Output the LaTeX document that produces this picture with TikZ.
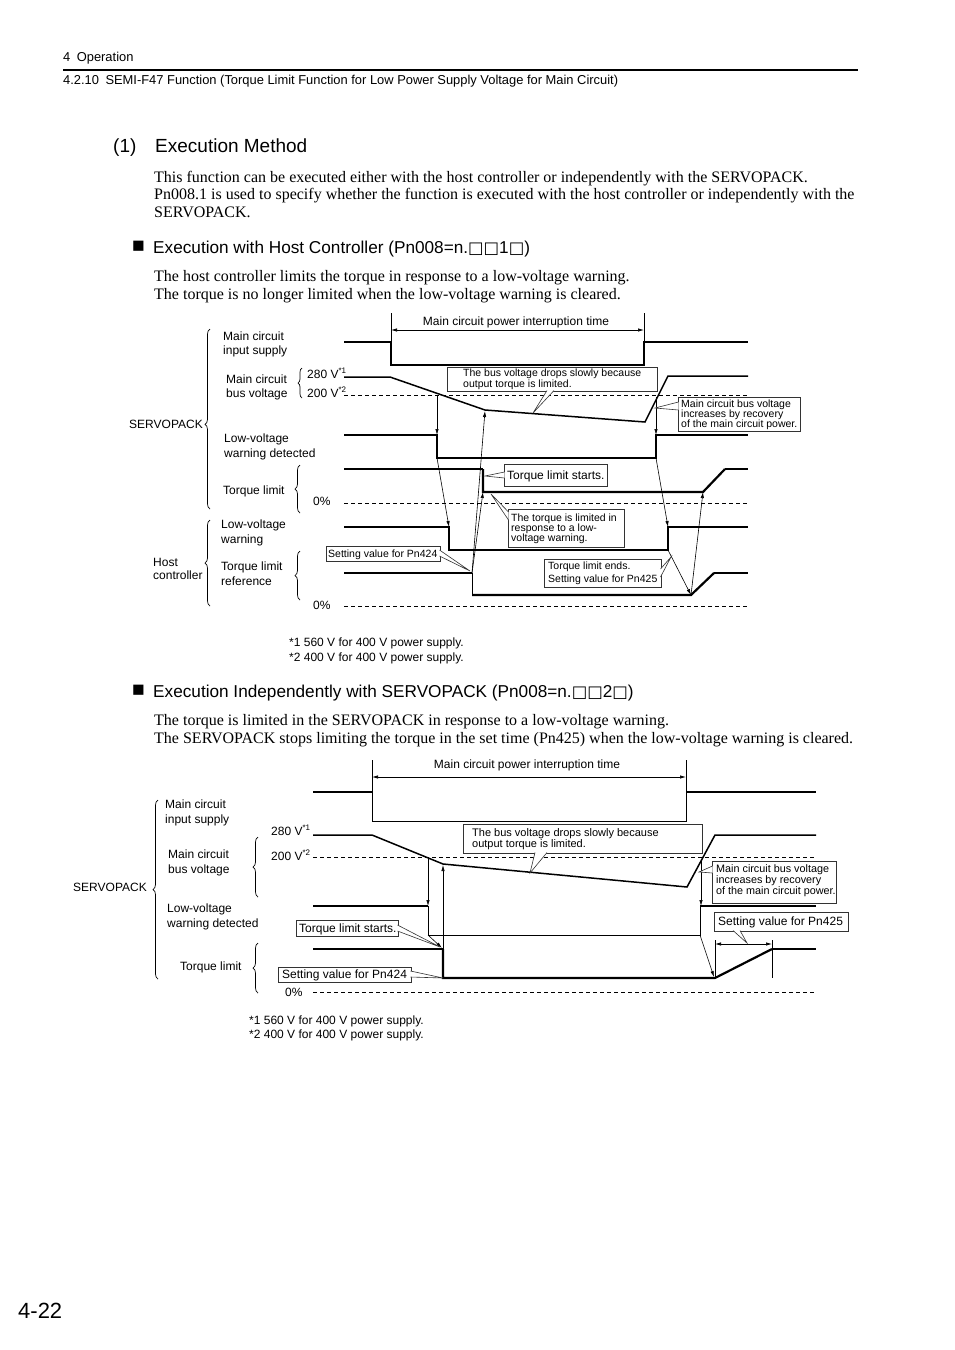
\documentclass[tikz,border=0pt]{standalone}
\usepackage{fontspec}
\setmainfont{Liberation Sans}
\newfontfamily\serifface{Liberation Serif}
\newfontfamily\symf{DejaVu Sans}
\usetikzlibrary{arrows.meta,decorations.pathreplacing}
\newcommand\callwedge[3]{\fill[white] #1 -- #2 -- #3 -- cycle; \draw[wdg] #1 -- #2 -- #3;}
\newcommand\bx{{\symf\fontsize{16.4}{19}\selectfont □}}
\tikzset{
 sig/.style={line width=2.2pt, line join=miter},
 med/.style={line width=1.5pt, line join=miter},
 thn/.style={line width=0.8pt},
 dsh/.style={line width=0.8pt, dash pattern=on 4pt off 3pt},
 arr/.style={line width=0.6pt, -{Latex[length=6pt,width=3.4pt]}},
 dimarr/.style={line width=0.7pt, {Latex[length=6pt,width=3.4pt]}-{Latex[length=6pt,width=3.4pt]}},
 brc/.style={decorate, decoration={brace, amplitude=5pt}, line width=0.7pt},
 cbox/.style={draw=black!80, line width=0.8pt, inner sep=0, outer sep=0},
 wdg/.style={line width=0.6pt, black!80},
 t12/.style={inner sep=0, anchor=west, text height=8.6pt, text depth=0pt, font=\fontsize{12}{14}\selectfont},
 t11/.style={inner sep=0, anchor=west, text height=7.9pt, text depth=0pt, font=\fontsize{11}{13}\selectfont},
 thd/.style={inner sep=0, anchor=west, text height=9.2pt, text depth=0pt, font=\fontsize{12.9}{15}\selectfont},
 ct/.style={inner sep=0, anchor=west, align=left},
 body/.style={inner sep=0, anchor=west, text height=10.6pt, text depth=0pt, font=\serifface\fontsize{16}{18}\selectfont},
 h19/.style={inner sep=0, anchor=west, text height=13.6pt, text depth=0pt, font=\fontsize{19}{22}\selectfont},
 h16/.style={inner sep=0, anchor=west, text height=12.3pt, text depth=0pt, font=\fontsize{17.2}{20}\selectfont},
 sq/.style={inner sep=0, anchor=base west, font=\fontsize{21}{22}\selectfont},
}
\begin{document}
\begin{tikzpicture}[x=1pt,y=-1pt]
\useasboundingbox (0,0) rectangle (954,1350);
\fill[white] (0,0) rectangle (954,1350);

% ---------- page header ----------
\node[thd] (hdA) at (63,57) {4\enspace Operation};
\draw[line width=1.5pt] (63,70) -- (858,70);
\node[thd] (hdB) at (63,80) {4.2.10\enspace SEMI-F47 Function (Torque Limit Function for Low Power Supply Voltage for Main Circuit)};

\node[h19] (secnum) at (113,146) {(1)};
\node[h19] (sectit) at (155,146) {Execution Method};
\node[body] (p1) at (154,177) {This function can be executed either with the host controller or independently with the SERVOPACK.};
\node[body] (p2) at (154,194) {Pn008.1 is used to specify whether the function is executed with the host controller or independently with the};
\node[body] (p3) at (154,212) {SERVOPACK.};

\node[sq] (sqA) at (132,252.8) {■};
\node[h16] (bulA) at (153,247) {Execution with Host Controller (Pn008=n.\bx\bx1\bx)};
\node[body] (p4) at (154,276) {The host controller limits the torque in response to a low-voltage warning.};
\node[body] (p5) at (154,294) {The torque is no longer limited when the low-voltage warning is cleared.};

% ---------- top diagram ----------
\draw[thn] (391,313) -- (391,365);
\draw[thn] (644,313) -- (644,365);
\draw[dimarr] (391,330) -- (644,330);
\node[t12,anchor=center] (tInt) at (516,321) {Main circuit power interruption time};

% signals
\draw[sig] (344,342) -- (391,342) -- (391,365) -- (644,365) -- (644,342) -- (748,342);
\draw[med] (344,377) -- (390,377) -- (485,410) -- (645,422) -- (668,376) -- (748,376);
\draw[dsh] (344,395) -- (748,395);
\draw[sig] (344,435) -- (437,435) -- (437,458) -- (656,458) -- (656,435) -- (748,435);
\draw[med] (344,469) -- (483,469);
\draw[sig] (483,469) -- (483,492) -- (703,492) -- (725,469);
\draw[med] (725,469) -- (748,469);
\draw[dsh] (344,503) -- (748,503);
\draw[sig] (344,527) -- (449,527) -- (449,550) -- (668,550) -- (668,527) -- (748,527);
\draw[med] (344,573) -- (472,573);
\draw[thn] (472,573) -- (472,595);
\draw[sig] (472,595) -- (691,595) -- (714,573);
\draw[med] (714,573) -- (748,573);
\draw[dsh] (344,606) -- (748,606);

% arrows
\coordinate (tA) at (437,395);
\coordinate (tB) at (437,435);
\coordinate (tC) at (437,458);
\coordinate (tD) at (449,527);
\coordinate (tE) at (472,573);
\coordinate (tF) at (483,492);
\coordinate (tG) at (485,411);
\coordinate (tH) at (656,397);
\coordinate (tI) at (656,435);
\coordinate (tJ) at (656,458);
\coordinate (tK) at (668,527);
\coordinate (tL) at (668,550);
\coordinate (tM) at (691,595);
\coordinate (tN) at (703,492);
\draw[arr] (tA) -- (tB);
\draw[arr] (tC) -- (tD);
\draw[arr] (tE) -- (tF);
\draw[arr] (tE) -- (tG);
\draw[arr] (tH) -- (tI);
\draw[arr] (tJ) -- (tK);
\draw[arr] (tL) -- (tM);
\draw[arr] (tM) -- (tN);

% callouts
\node[cbox, minimum width=210, minimum height=24] (c1) at (552,379) {};
\callwedge{(547,390.5)}{(533,413)}{(554,390.5)}
\node[ct, font=\fontsize{10.5}{11}\selectfont] (c1t) at (463,379.5) {The bus voltage drops slowly because\\output torque is limited.};

\node[cbox, minimum width=122, minimum height=34] (c2) at (739,414) {};
\callwedge{(678.5,402)}{(655,408)}{(678.5,410)}
\node[ct, font=\fontsize{10.5}{10}\selectfont] (c2t) at (681,414.5) {Main circuit bus voltage\\increases by recovery\\of the main circuit power.};

\node[cbox, minimum width=103, minimum height=22] (c3) at (555.5,475) {};
\callwedge{(504.5,472)}{(485,476)}{(504.5,478)}
\node[t12] (c3t) at (507,475) {Torque limit starts.};

\node[cbox, minimum width=116, minimum height=38] (c4) at (566,528) {};
\callwedge{(508.5,512)}{(491,494)}{(508.5,520)}
\node[ct, font=\fontsize{10.5}{10}\selectfont] (c4t) at (511,528.5) {The torque is limited in\\response to a low-\\voltage warning.};

\node[cbox, minimum width=114, minimum height=15] (c5) at (383,553.5) {};
\callwedge{(439.5,550)}{(470,571)}{(439.5,556)}
\node[t11, font=\fontsize{10.5}{12}\selectfont, text height=7.5pt] (c5t) at (328,553.5) {Setting value for Pn424};

\node[cbox, minimum width=117, minimum height=28] (c6) at (602.5,573) {};
\callwedge{(660.5,569)}{(671,557)}{(660.5,577)}
\node[ct, font=\fontsize{10.5}{13}\selectfont] (c6t) at (548,573.5) {Torque limit ends.\\Setting value for Pn425};

% labels
\node[t12] (l1) at (223,336) {Main circuit};
\node[t12] (l2) at (223,350) {input supply};
\node[t12] (l3) at (226,379) {Main circuit};
\node[t12] (l4) at (226,393) {bus voltage};
\node[t12] (v1) at (307,374) {280 V\textsuperscript{*1}};
\node[t12] (v2) at (307,393) {200 V\textsuperscript{*2}};
\node[t12,anchor=east] (sv1) at (203,424) {SERVOPACK};
\node[t12] (l5) at (224,438) {Low-voltage};
\node[t12] (l6) at (224,453) {warning detected};
\node[t12] (l7) at (223,490) {Torque limit};
\node[t12] (z1) at (313,501) {0\%};
\node[t12] (l8) at (221,524) {Low-voltage};
\node[t12] (l9) at (221,539) {warning};
\node[t12] (hc1) at (153,562) {Host};
\node[t12] (hc2) at (153,575) {controller};
\node[t12] (l10) at (221,566) {Torque limit};
\node[t12] (l11) at (221,581) {reference};
\node[t12] (z2) at (313,605) {0\%};

% braces
\draw[brc, decoration={aspect=0.47}] (210,509) -- (210,329);
\draw[brc] (210,606) -- (210,520);
\draw[brc, decoration={amplitude=4pt}] (302,398) -- (302,368);
\draw[brc] (300,513) -- (300,465);
\draw[brc] (300,600) -- (300,551);

\node[t12] (fn1) at (289,642) {*1 560 V for 400 V power supply.};
\node[t12] (fn2) at (289,657) {*2 400 V for 400 V power supply.};

% ---------- second section ----------
\node[sq] (sqB) at (132,696.8) {■};
\node[h16] (bulB) at (153,691) {Execution Independently with SERVOPACK (Pn008=n.\bx\bx2\bx)};
\node[body] (p6) at (154,720) {The torque is limited in the SERVOPACK in response to a low-voltage warning.};
\node[body] (p7) at (154,738) {The SERVOPACK stops limiting the torque in the set time (Pn425) when the low-voltage warning is cleared.};

% ---------- bottom diagram ----------
\draw[thn] (372,760) -- (372,821);
\draw[thn] (686,760) -- (686,821);
\draw[dimarr] (372,777) -- (686,777);
\node[t12,anchor=center] (bInt) at (527,764) {Main circuit power interruption time};

\draw[sig] (313,792) -- (372,792);
\draw[thn] (372,792) -- (372,821) -- (686,821) -- (686,792);
\draw[sig] (686,792) -- (816,792);
\draw[med] (313,835) -- (372,835) -- (443,864) -- (687,887) -- (715,835) -- (816,835);
\draw[dsh] (313,857) -- (816,857);
\draw[sig] (313,906) -- (428,906);
\draw[thn] (428,906) -- (428,935) -- (700,935) -- (700,906);
\draw[sig] (700,906) -- (816,906);
\draw[med] (313,949) -- (443,949);
\draw[sig] (443,949) -- (443,978) -- (715,978) -- (772,949);
\draw[med] (772,949) -- (816,949);
\draw[dsh] (313,992) -- (816,992);

\coordinate (bA) at (428,857);
\coordinate (bB) at (428,906);
\coordinate (bC) at (443,949);
\coordinate (bD) at (443,865);
\coordinate (bE) at (701,859);
\coordinate (bF) at (701,906);
\coordinate (bG) at (428,935);
\coordinate (bH) at (442,948);
\coordinate (bI) at (700,935);
\coordinate (bJ) at (714,977);
\draw[arr] (bA) -- (bB);
\draw[arr] (bC) -- (bD);
\draw[arr] (bE) -- (bF);
\draw[arr] (bG) -- (bH);
\draw[arr] (bI) -- (bJ);
\draw[thn, line width=0.7pt] (715,940) -- (715,978);
\draw[thn, line width=0.7pt] (772,940) -- (772,978);
\draw[dimarr] (715,944) -- (772,944);

\node[cbox, minimum width=239, minimum height=29] (d1) at (582.5,838.5) {};
\callwedge{(535,852.5)}{(530,873)}{(547,852.5)}
\node[ct, font=\fontsize{11}{11}\selectfont] (d1t) at (472,839) {The bus voltage drops slowly because\\output torque is limited.};

\node[cbox, minimum width=124, minimum height=42] (d2) at (774,882) {};
\callwedge{(712.5,866)}{(699,872)}{(712.5,873)}
\node[ct, font=\fontsize{10.8}{9.6}\selectfont] (d2t) at (716,880.5) {Main circuit bus voltage\\increases by recovery\\of the main circuit power.};

\node[cbox, minimum width=102, minimum height=16] (d3) at (347,928) {};
\callwedge{(397.5,925)}{(440,947)}{(397.5,931)}
\node[t12] (d3t) at (299,928) {Torque limit starts.};

\node[cbox, minimum width=133, minimum height=15] (d4) at (344.5,974.5) {};
\callwedge{(410.5,971)}{(443,978)}{(410.5,977)}
\node[t12] (d4t) at (282,974.5) {Setting value for Pn424};

\node[cbox, minimum width=134, minimum height=19] (d5) at (781,921.5) {};
\callwedge{(733,930.5)}{(747,943)}{(740,930.5)}
\node[t12] (d5t) at (718,921.5) {Setting value for Pn425};

\node[t12,anchor=east] (sv2) at (147,887) {SERVOPACK};
\node[t12] (m1) at (165,804) {Main circuit};
\node[t12] (m2) at (165,819) {input supply};
\node[t12] (m3) at (168,854) {Main circuit};
\node[t12] (m4) at (168,869) {bus voltage};
\node[t12] (w1) at (271,831) {280 V\textsuperscript{*1}};
\node[t12] (w2) at (271,856) {200 V\textsuperscript{*2}};
\node[t12] (m5) at (167,908) {Low-voltage};
\node[t12] (m6) at (167,923) {warning detected};
\node[t12] (m7) at (180,966) {Torque limit};
\node[t12] (z3) at (285,992) {0\%};

\draw[brc] (158,979) -- (158,800);
\draw[brc] (258,897) -- (258,837);
\draw[brc] (258,993) -- (258,943);

\node[t12] (fn3) at (249,1020) {*1 560 V for 400 V power supply.};
\node[t12] (fn4) at (249,1034) {*2 400 V for 400 V power supply.};

\node[inner sep=0, anchor=west, text height=15.8pt, text depth=0pt, font=\fontsize{22}{26}\selectfont] (pg) at (18,1311) {4-22};
\end{tikzpicture}
\end{document}
